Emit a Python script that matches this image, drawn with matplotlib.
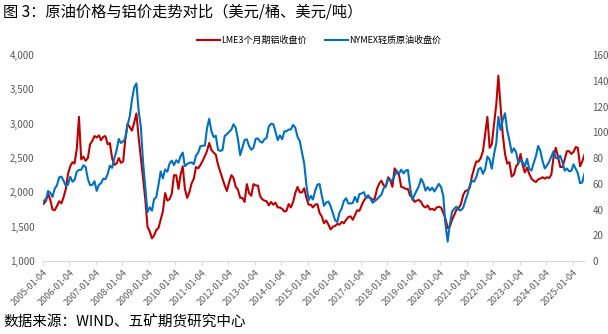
import pandas as pd
import matplotlib.pyplot as plt
from matplotlib.ticker import FuncFormatter

plt.rcParams['font.family'] = ['Noto Sans CJK SC', 'DejaVu Sans']

# monthly readings, Jan 2005 - Jun 2025
aluminium = [
    1835, 1880, 1980, 1890, 1750, 1740, 1800, 1870, 1840, 1930, 2050, 2270,  # 2005
    2380, 2440, 2420, 2630, 3100, 2480, 2520, 2460, 2500, 2700, 2750, 2820,  # 2006
    2800, 2830, 2760, 2810, 2820, 2700, 2720, 2500, 2400, 2420, 2500, 2430,  # 2007
    2450, 2800, 3000, 2950, 2900, 3020, 3150, 2800, 2500, 2200, 1900, 1500,  # 2008
    1430, 1330, 1370, 1450, 1480, 1600, 1720, 1990, 1880, 1900, 1980, 2250,  # 2009
    2250, 2050, 2250, 2380, 2050, 1920, 2000, 2130, 2200, 2370, 2350, 2400,  # 2010
    2460, 2530, 2600, 2720, 2620, 2580, 2550, 2400, 2300, 2200, 2100, 2020,  # 2011
    2150, 2250, 2210, 2080, 2040, 1920, 1920, 1860, 2120, 1990, 1950, 2120,  # 2012
    2100, 2100, 1950, 1900, 1880, 1870, 1810, 1860, 1820, 1850, 1780, 1780,  # 2013
    1760, 1720, 1730, 1830, 1780, 1860, 1990, 2080, 2000, 2000, 2060, 1920,  # 2014
    1820, 1820, 1780, 1820, 1830, 1700, 1650, 1550, 1590, 1530, 1460, 1500,  # 2015
    1510, 1540, 1530, 1570, 1550, 1600, 1640, 1650, 1600, 1670, 1740, 1730,  # 2016
    1810, 1880, 1920, 1930, 1920, 1890, 1910, 2050, 2130, 2170, 2100, 2090,  # 2017
    2220, 2180, 2080, 2350, 2300, 2250, 2080, 2070, 2050, 2050, 1950, 1930,  # 2018
    1860, 1880, 1890, 1860, 1800, 1780, 1810, 1750, 1760, 1740, 1780, 1790,  # 2019
    1780, 1700, 1620, 1480, 1500, 1600, 1670, 1750, 1770, 1830, 1960, 2020,  # 2020
    2030, 2070, 2230, 2350, 2450, 2450, 2500, 2600, 2850, 3100, 2650, 2700,  # 2021
    3000, 3280, 3700, 3250, 2840, 2560, 2420, 2440, 2230, 2260, 2380, 2420,  # 2022
    2560, 2390, 2290, 2360, 2270, 2200, 2170, 2150, 2190, 2200, 2220, 2200,  # 2023
    2220, 2210, 2260, 2520, 2650, 2520, 2370, 2370, 2480, 2600, 2600, 2560,  # 2024
    2590, 2660, 2650, 2380, 2450, 2550,                                      # 2025
]

oil = [
    46.8, 48.0, 54.3, 53.0, 49.8, 56.3, 58.7, 65.0, 65.6, 62.4, 58.3, 59.4,  # 2005
    65.5, 61.6, 62.9, 69.4, 70.8, 70.9, 74.4, 73.0, 63.8, 58.9, 59.1, 62.0,  # 2006
    54.5, 59.3, 60.4, 64.0, 63.5, 67.5, 74.1, 72.4, 79.9, 85.8, 94.8, 91.7,  # 2007
    93.0, 95.4, 105.5, 112.6, 125.4, 135.0, 138.0, 116.7, 104.1, 76.6, 57.3, 38.0,  # 2008
    41.7, 39.1, 47.9, 49.7, 59.0, 69.6, 64.2, 71.1, 69.4, 75.7, 78.0, 74.5,  # 2009
    78.3, 76.4, 81.2, 84.3, 73.7, 75.3, 76.3, 76.6, 75.2, 81.9, 84.3, 89.2,  # 2010
    89.6, 89.7, 102.9, 110.5, 100.9, 96.3, 97.3, 86.3, 85.5, 86.3, 97.2, 98.6,  # 2011
    100.3, 102.2, 106.2, 103.3, 94.7, 82.3, 87.9, 94.1, 94.5, 89.5, 86.5, 87.9,  # 2012
    94.8, 95.3, 92.9, 92.0, 94.5, 95.8, 104.6, 106.6, 106.3, 100.5, 93.9, 97.6,  # 2013
    94.6, 100.8, 100.8, 102.1, 102.2, 105.8, 103.6, 96.5, 93.2, 84.4, 75.8, 59.3,  # 2014
    47.2, 50.6, 47.8, 54.5, 59.3, 59.8, 50.9, 42.9, 45.5, 46.2, 42.4, 37.2,  # 2015
    31.7, 30.3, 37.5, 40.8, 46.7, 48.8, 44.7, 44.7, 45.2, 49.8, 45.7, 52.0,  # 2016
    52.5, 53.5, 49.3, 51.1, 48.5, 45.2, 46.6, 48.0, 49.8, 51.6, 56.6, 57.9,  # 2017
    63.7, 62.2, 62.7, 66.3, 70.0, 67.9, 71.0, 68.1, 70.2, 70.8, 57.0, 47.5,  # 2018
    51.4, 55.0, 58.2, 63.9, 60.8, 54.7, 57.4, 54.8, 57.0, 54.0, 57.0, 59.9,  # 2019
    57.5, 50.5, 29.2, 15.0, 28.5, 38.3, 40.7, 42.3, 39.6, 39.4, 41.4, 47.0,  # 2020
    52.0, 59.0, 62.3, 61.7, 65.2, 71.4, 72.5, 67.7, 71.5, 81.2, 78.7, 71.7,  # 2021
    83.2, 91.6, 112.0, 101.8, 109.6, 114.8, 101.6, 93.7, 84.3, 87.5, 84.4, 76.4,  # 2022
    78.1, 76.8, 73.3, 79.4, 71.6, 70.3, 76.1, 81.4, 89.4, 85.6, 77.7, 71.9,  # 2023
    74.2, 77.3, 81.3, 85.4, 80.0, 79.8, 81.8, 76.7, 70.2, 71.9, 69.7, 70.1,  # 2024
    75.1, 71.5, 68.2, 60.5, 61.0, 68.0,                                      # 2025
]

years = list(range(2005, 2026))
al_ticks = list(range(1000, 4001, 500))
oil_ticks = list(range(0, 161, 20))

dates = pd.date_range('2005-01-01', periods=len(oil), freq='MS') + pd.Timedelta(days=14)
xticks = [pd.Timestamp(f'{y}-01-04') for y in years]
gray = '#595959'

fig = plt.figure(figsize=(6.08, 3.34), dpi=100)
ax = fig.add_axes([0.0707, 0.2186, 0.8898, 0.6164])
ax2 = ax.twinx()

l1, = ax.plot(dates, aluminium, color='#C00000', lw=1.5, label='LME3个月期铝收盘价')
l2, = ax2.plot(dates, oil, color='#0070C0', lw=1.5, label='NYMEX轻质原油收盘价')

ax.set_ylim(1000, 4000)
ax.set_yticks(al_ticks)
ax.yaxis.set_major_formatter(FuncFormatter(lambda v, p: f'{int(v):,}'))
ax2.set_ylim(0, 160)
ax2.set_yticks(oil_ticks)

ax.set_xlim(pd.Timestamp('2005-01-04'), pd.Timestamp('2025-06-08'))
ax.set_xticks(xticks)
ax.set_xticklabels([t.strftime('%Y-%m-%d') for t in xticks], rotation=45,
                   ha='right', rotation_mode='anchor', fontsize=6.5, color=gray)

for a in (ax, ax2):
    for s in ('top', 'left', 'right'):
        a.spines[s].set_visible(False)
ax2.spines['bottom'].set_visible(False)
ax.spines['bottom'].set_color('#d9d9d9')
ax.tick_params(axis='x', length=3, color='#d9d9d9', pad=2)
ax.tick_params(axis='y', length=0, labelsize=7, labelcolor=gray, pad=6)
ax2.tick_params(axis='y', length=0, labelsize=7, labelcolor=gray, pad=6)

fig.legend(handles=[l1, l2], loc='center', bbox_to_anchor=(0.525, 0.88), ncol=2,
           frameon=False, fontsize=6.5, handlelength=2.5, columnspacing=2.0,
           handletextpad=0.2)

fig.text(0.005, 0.963, '图 3：原油价格与铝价走势对比（美元/桶、美元/吨）',
         fontsize=11, va='center')
fig.text(0.005, 0.033, '数据来源：WIND、五矿期货研究中心', fontsize=10.5, va='center')

fig.savefig('out.png', dpi=100)
